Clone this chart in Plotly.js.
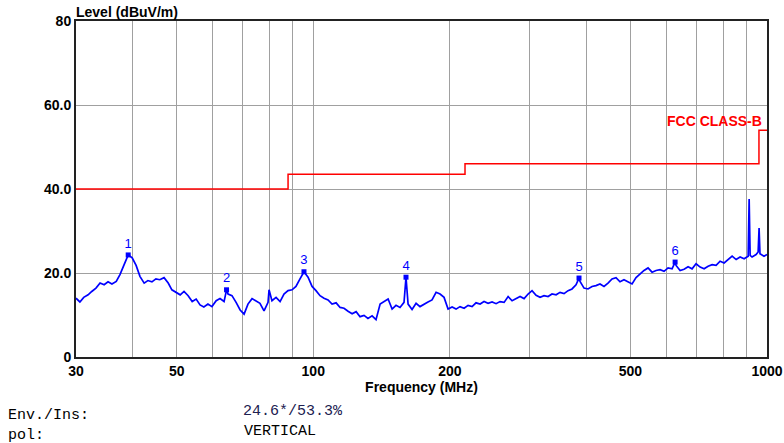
<!DOCTYPE html>
<html>
<head>
<meta charset="utf-8">
<script src="https://cdn.plot.ly/plotly-3.0.1.min.js"></script>
<style>
html,body{margin:0;padding:0;background:#fff;}
#chart{width:784px;height:443px;}
</style>
</head>
<body>
<div id="chart"></div>
<script>
// Measured trace (frequency in MHz, level in dBuV/m)
const traceFreq = [30.0,30.6,31.2,31.9,32.5,33.2,33.9,34.6,35.3,36.0,36.8,37.5,38.3,39.1,39.9,40.7,41.5,42.4,43.2,44.1,45.0,45.9,46.9,47.9,48.8,49.8,50.9,51.9,53.0,54.1,55.2,56.3,57.4,58.6,59.8,61.1,62.3,63.6,64.4,64.9,66.2,67.6,69.0,70.4,71.8,73.3,74.8,76.3,77.9,79.5,79.9,81.1,82.8,84.5,86.2,88.0,89.8,91.6,93.5,95.4,97.4,99.4,101.4,103.5,105.6,107.8,110.0,112.3,114.6,116.9,119.3,121.8,124.3,126.8,129.4,132.0,134.8,137.5,140.4,143.2,146.2,149.2,152.2,155.3,158.5,160.1,161.8,165.1,168.5,171.9,175.4,179.0,182.7,186.5,190.3,194.2,198.2,202.3,206.4,210.6,215.0,219.4,223.9,228.4,233.2,237.9,242.8,247.8,252.9,258.0,263.4,268.8,274.3,279.9,285.6,291.5,297.5,303.5,309.8,316.1,322.6,329.2,335.9,342.9,349.9,357.1,364.4,371.8,379.4,385.2,387.2,395.1,403.2,411.5,419.9,428.5,437.3,446.3,455.5,464.8,474.3,484.0,494.0,504.2,514.5,525.0,535.8,546.8,558.1,569.5,581.2,593.1,605.3,617.7,627.3,630.4,643.4,656.5,670.0,683.7,697.7,712.2,726.8,741.7,756.9,772.4,788.2,804.5,821.0,837.8,855.0,872.5,890.4,908.8,913.4,918.0,927.0,946.0,956.0,960.6,965.0,985.0,1000.0];
const traceLevel = [14.0,13.1,14.2,14.8,15.6,16.4,17.6,17.2,17.9,17.4,18.0,19.6,22.0,24.3,23.6,21.8,19.2,17.6,18.2,17.9,18.6,18.4,18.9,17.6,16.0,15.4,14.8,15.6,14.6,13.2,13.8,12.4,11.9,12.6,12.0,13.4,13.9,13.2,16.0,15.0,14.6,13.0,11.2,10.2,12.6,13.9,13.4,12.8,11.0,13.0,16.0,13.4,14.2,13.2,15.0,15.8,16.0,16.8,18.6,20.3,19.0,16.8,15.8,14.6,14.0,13.6,12.6,12.9,11.8,11.6,10.9,10.3,10.8,9.6,9.9,9.2,9.8,8.9,12.6,13.2,13.8,11.4,12.3,11.8,13.0,19.0,12.6,11.3,12.8,12.0,12.6,13.1,13.6,15.4,15.0,14.2,11.4,11.9,11.4,12.0,11.6,12.3,12.0,12.9,12.6,13.2,12.8,13.1,12.7,13.2,13.0,14.4,13.4,14.0,14.4,13.9,15.0,15.8,14.7,14.2,14.6,14.4,15.0,14.8,15.4,15.1,15.8,16.2,17.2,18.8,18.0,16.4,16.2,16.8,17.0,17.4,16.8,17.6,18.6,18.9,17.9,18.4,17.8,17.4,18.9,19.8,20.6,21.2,20.2,20.6,20.8,20.4,21.2,21.0,22.6,21.8,20.6,20.9,21.5,21.0,22.2,21.4,21.0,21.6,22.0,21.8,22.8,22.4,23.2,24.0,23.2,23.8,23.4,24.0,37.6,24.2,23.8,24.4,25.0,30.7,24.6,24.0,24.4];

// FCC Class B limit line
const limitFreq = [30, 88, 88, 216, 216, 960, 960, 1000];
const limitLevel = [40, 40, 43.5, 43.5, 46, 46, 54, 54];

// Marked peaks
const peakFreq = [39.1, 64.4, 95.4, 160.1, 385.2, 627.3];
const peakLevel = [24.3, 16.0, 20.3, 19.0, 18.8, 22.6];
const peakLabels = ['1', '2', '3', '4', '5', '6'];

// Axis ticks
const xTickVals = [30,40,50,60,70,80,90,100,200,300,400,500,600,700,800,900,1000];
const xTickText = ['30','','50','','','','','100','200','','','500','','','','','1000'];
const yTickVals = [0, 20, 40, 60, 80];
const yTickText = ['0', '20.0', '40.0', '60.0', '80'];

const boldFont = {family: 'Liberation Sans, Arial, sans-serif', size: 14, color: '#000', weight: 'bold'};
const monoFont = {family: 'Liberation Mono, Courier New, monospace', size: 15, color: '#000'};

const data = [
  {x: limitFreq, y: limitLevel, type: 'scatter', mode: 'lines',
   line: {color: '#ff0000', width: 1.5}, hoverinfo: 'skip'},
  {x: traceFreq, y: traceLevel, type: 'scatter', mode: 'lines',
   line: {color: '#0000ff', width: 1.7}},
  {x: peakFreq, y: peakLevel, type: 'scatter', mode: 'markers+text',
   text: peakLabels, textposition: 'top center',
   textfont: {family: 'Liberation Sans, Arial, sans-serif', size: 13, color: '#0000ff'},
   marker: {color: '#0000ff', size: 5, symbol: 'square'}}
];

const layout = {
  width: 784, height: 443,
  margin: {l: 76, r: 17, t: 21, b: 86},
  paper_bgcolor: '#fff', plot_bgcolor: '#fff',
  showlegend: false,
  title: {text: 'Level (dBuV/m)', font: boldFont, x: 76/784, xanchor: 'left', xref: 'container', y: 1 - 12/443, yanchor: 'middle'},
  xaxis: {
    type: 'log', range: [Math.log10(30), Math.log10(1000)],
    tickmode: 'array', tickvals: xTickVals, ticktext: xTickText,
    tickfont: boldFont, ticks: '',
    showgrid: true, gridcolor: '#a0a0a0', gridwidth: 1,
    showline: true, linecolor: '#222', linewidth: 2, mirror: true,
    zeroline: false,
    title: {text: 'Frequency (MHz)', font: boldFont, standoff: 4}
  },
  yaxis: {
    range: [0, 80],
    tickmode: 'array', tickvals: yTickVals, ticktext: yTickText,
    tickfont: boldFont, ticks: '',
    showgrid: true, gridcolor: '#a0a0a0', gridwidth: 1,
    showline: true, linecolor: '#222', linewidth: 2, mirror: true,
    zeroline: false
  },
  annotations: [
    {text: 'FCC CLASS-B', x: Math.log10(1000), y: 56.2, xref: 'x', yref: 'y',
     xanchor: 'right', yanchor: 'middle', xshift: -3, showarrow: false,
     font: {family: 'Liberation Sans, Arial, sans-serif', size: 14, color: '#ff0000', weight: 'bold'}},
    {text: 'Env./Ins:<br>pol:', xref: 'paper', yref: 'paper', x: (7-76)/691, y: (357-425)/336,
     xanchor: 'left', yanchor: 'middle', align: 'left', showarrow: false, borderpad: 0, font: monoFont},
    {text: '24.6*/53.3%', xref: 'paper', yref: 'paper', x: (242-76)/691, y: (357-411)/336,
     xanchor: 'left', yanchor: 'middle', showarrow: false, borderpad: 0, font: Object.assign({}, monoFont, {color: '#202050'})},
    {text: 'VERTICAL', xref: 'paper', yref: 'paper', x: (243-76)/691, y: (357-431)/336,
     xanchor: 'left', yanchor: 'middle', showarrow: false, borderpad: 0, font: monoFont}
  ]
};

Plotly.newPlot('chart', data, layout, {displayModeBar: false, staticPlot: true});
</script>
</body>
</html>
